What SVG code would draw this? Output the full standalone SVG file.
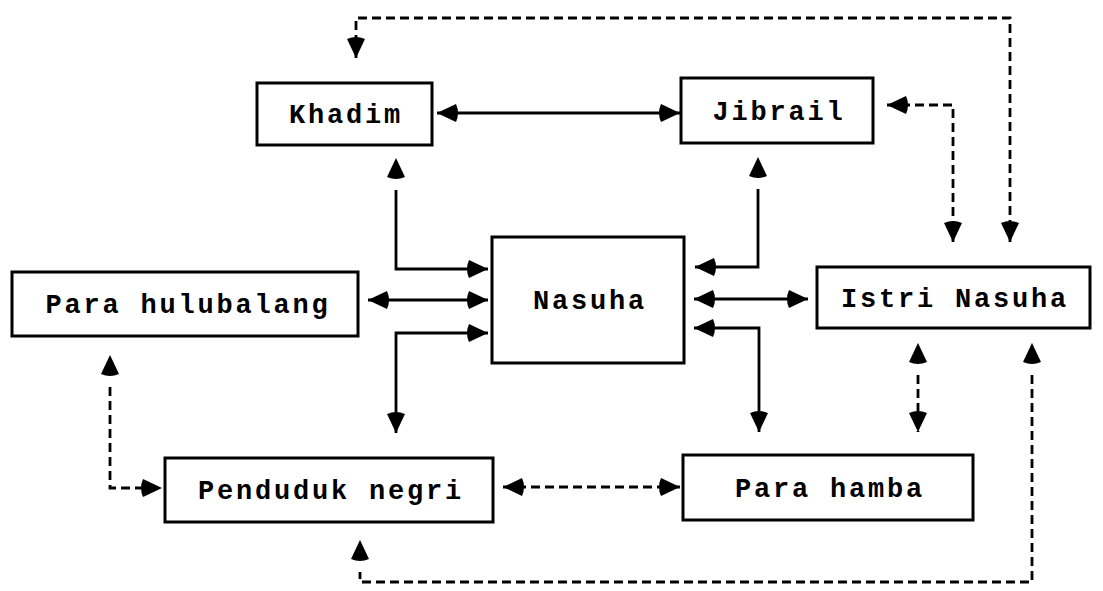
<svg xmlns="http://www.w3.org/2000/svg" width="1103" height="591" viewBox="0 0 1103 591">
<style>
.box{fill:#fff;stroke:#000;stroke-width:3}
.lbl{font-family:"Liberation Mono","DejaVu Sans Mono",monospace;font-weight:bold;font-size:27px;letter-spacing:2.8px;fill:#000;text-anchor:middle}
.c{fill:none;stroke:#000;stroke-width:2.8}
.d{stroke-dasharray:9 5}
</style>
<defs>
<marker id="a" markerUnits="userSpaceOnUse" viewBox="0 0 23 20" markerWidth="23" markerHeight="20" refX="22" refY="10" orient="auto-start-reverse">
<path d="M3,1 L22,10 L3,19 Q-1,10 3,1z" fill="#000"/>
</marker>
<marker id="g" markerUnits="userSpaceOnUse" viewBox="0 0 35 20" markerWidth="35" markerHeight="20" refX="0" refY="10" orient="auto-start-reverse">
<path d="M13,1 L32,10 L13,19 Q9,10 13,1z" fill="#000"/>
</marker>
</defs>
<rect width="1103" height="591" fill="#fff"/>
<g id="connectors">
<path class="c" d="M437,113 H680" marker-start="url(#a)" marker-end="url(#a)"/>
<path class="c d" d="M356,58 V18 H1010 V242" marker-start="url(#a)" marker-end="url(#a)"/>
<path class="c d" d="M887,105 H953 V242" marker-start="url(#a)" marker-end="url(#a)"/>
<path class="c" d="M396,190 V269 H488" marker-start="url(#g)" marker-end="url(#a)"/>
<path class="c" d="M758,189 V267 H695" marker-start="url(#g)" marker-end="url(#a)"/>
<path class="c" d="M368,300 H488" marker-start="url(#a)" marker-end="url(#a)"/>
<path class="c" d="M488,333 H396 V433" marker-start="url(#a)" marker-end="url(#a)"/>
<path class="c" d="M694,299 H808" marker-start="url(#a)" marker-end="url(#a)"/>
<path class="c" d="M694,328 H759 V432" marker-start="url(#a)" marker-end="url(#a)"/>
<path class="c d" d="M110,387 V488 H162" marker-start="url(#g)" marker-end="url(#a)"/>
<path class="c d" d="M503,487 H680" marker-start="url(#a)" marker-end="url(#a)"/>
<path class="c d" d="M918,375 V432" marker-start="url(#g)" marker-end="url(#a)"/>
<path class="c d" d="M1032,375 V582 H360 V572" marker-start="url(#g)" marker-end="url(#g)"/>
</g>
<g id="khadim"><rect class="box" x="257" y="83" width="175" height="62"/><text class="lbl" x="346" y="123">Khadim</text></g>
<g id="jibrail"><rect class="box" x="681" y="78" width="192" height="65"/><text class="lbl" x="779" y="120">Jibrail</text></g>
<g id="nasuha"><rect class="box" x="492" y="237" width="192" height="126"/><text class="lbl" x="590" y="309">Nasuha</text></g>
<g id="para-hulubalang"><rect class="box" x="12" y="272" width="346" height="64"/><text class="lbl" x="188" y="313">Para hulubalang</text></g>
<g id="istri-nasuha"><rect class="box" x="817" y="267" width="273" height="61"/><text class="lbl" x="955" y="307">Istri Nasuha</text></g>
<g id="penduduk-negri"><rect class="box" x="165" y="458" width="328" height="64"/><text class="lbl" x="331" y="499">Penduduk negri</text></g>
<g id="para-hamba"><rect class="box" x="683" y="455" width="290" height="65"/><text class="lbl" x="830" y="497">Para hamba</text></g>
</svg>
